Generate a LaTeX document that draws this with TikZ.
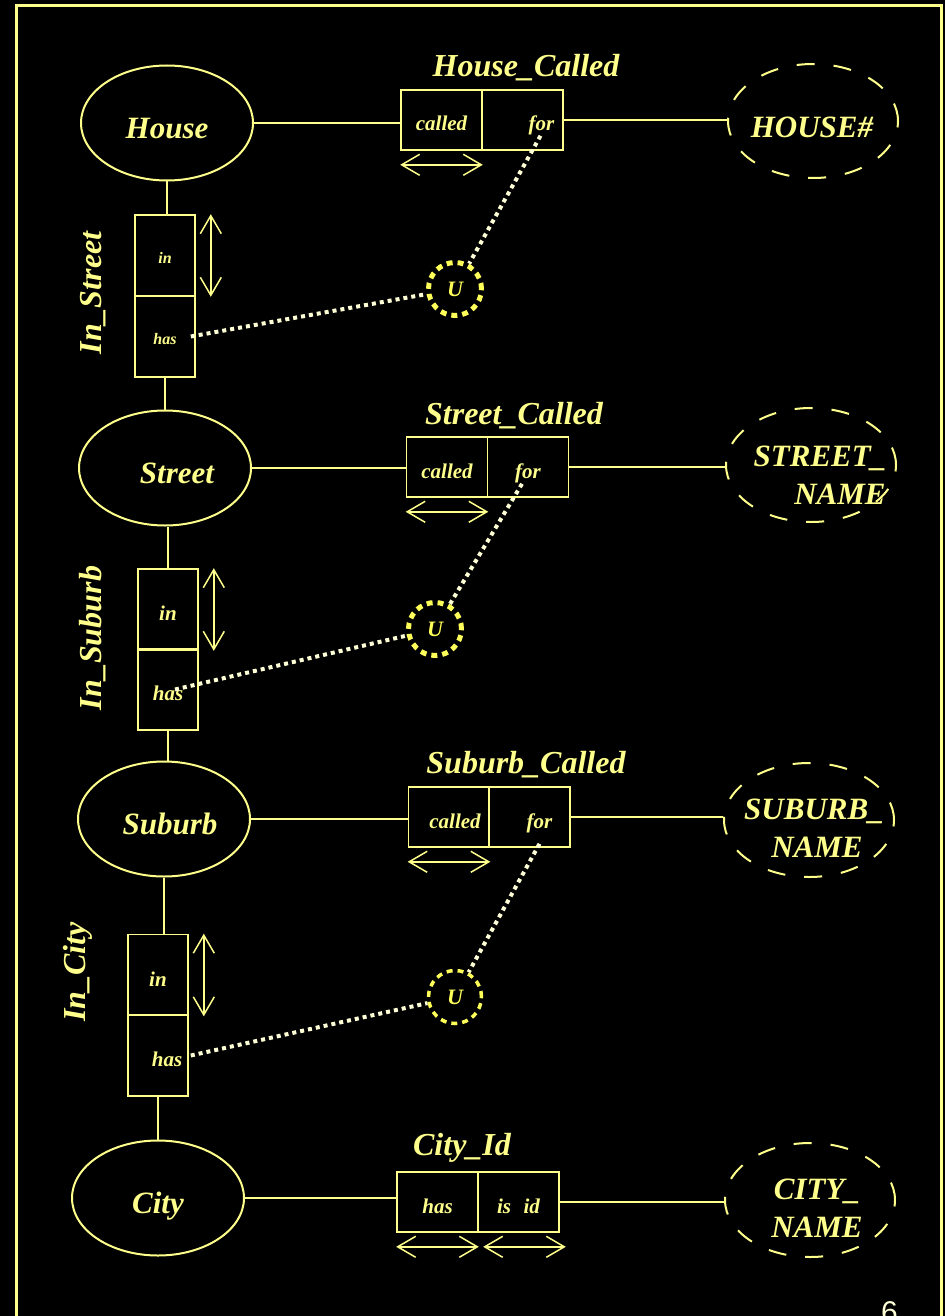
\documentclass[tikz,border=0pt]{standalone}
\usepackage{fontspec}
\setmainfont{Liberation Serif}
\setsansfont{Liberation Sans}
\usetikzlibrary{shapes.geometric, arrows.meta}

\definecolor{lineY}{RGB}{255,255,140}
\definecolor{dotW}{RGB}{255,255,215}
\definecolor{uniY}{RGB}{255,255,90}

\begin{document}
\begin{tikzpicture}[x=1pt, y=-1pt,
  ent/.style={ellipse, draw=lineY, line width=2pt, minimum width=172pt, minimum height=115pt,
    inner sep=0pt, text=lineY, text height=31pt, text depth=0pt,
    font=\bfseries\itshape\fontsize{31}{36}\selectfont},
  val/.style={ellipse, draw=lineY, line width=2pt, minimum width=170pt, minimum height=114pt,
    inner sep=0pt, dash pattern=on 18pt off 19pt},
  valtext/.style={text=lineY, align=center, inner sep=0pt,
    font=\bfseries\itshape\fontsize{31}{38}\selectfont},
  hcell/.style={rectangle, draw=lineY, line width=1.6pt, minimum width=81pt, minimum height=60pt,
    inner sep=0pt, text=lineY, text height=22pt, text depth=0pt,
    font=\bfseries\itshape\fontsize{21}{24}\selectfont},
  vcell/.style={hcell, minimum width=60pt, minimum height=81pt},
  scell/.style={vcell, text height=16pt, font=\bfseries\itshape\fontsize{16}{18}\selectfont},
  title/.style={text=lineY, font=\bfseries\itshape\fontsize{32}{36}\selectfont},
  link/.style={draw=lineY, line width=2pt},
  role/.style={draw=lineY, line width=1.5pt,
    {Straight Barb[length=18pt,width=21pt]}-{Straight Barb[length=18pt,width=21pt]}},
  dots/.style={draw=dotW, line width=4pt, dash pattern=on 4pt off 4pt},
  uni/.style={circle, draw=uniY, line width=5pt, dash pattern=on 6pt off 5pt, minimum size=53pt,
    inner sep=0pt, text=uniY, font=\bfseries\itshape\fontsize{22}{24}\selectfont},
]
% ---- page ----
\fill[black] (0,0) rectangle (945,1316);
\useasboundingbox (0,0) rectangle (945,1316);
\clip (0,0) rectangle (945,1316);
\draw[lineY, line width=3pt] (16,1320) -- (16,6) -- (941,6) -- (941,1320);
% ---- House ----
\node[ent] (house) at (167,123) {House};
\node[title] (hcTitle) at (526,68) {House\_Called};
\node[hcell] (hcCalled) at (441.5,120) {called};
\node[hcell] (hcFor) at (522.5,120) {\hspace*{38pt}for};
\node[val] (houseNo) at (813,121) {};
\node[valtext] (houseNoText) at (812,127) {HOUSE\#};
\draw[link] (house.east) -- (house.east -| hcCalled.west);
\draw[link] (hcFor.east) -- (hcFor.east -| houseNo.west);
\draw[role] ([yshift=-14pt]hcCalled.south west) -- ([yshift=-14pt]hcCalled.south east);
% ---- In_Street ----
\node[scell] (isIn) at (165,255.5) {in};
\node[scell] (isHas) at (165,336.5) {has};
\node[title, rotate=90] (isLabel) at (93,293) {In\_Street};
\draw[link] (house.south) -- (house.south |- isIn.north);
\draw[role] ([xshift=15pt]isIn.north east) -- ([xshift=15pt]isIn.south east);
\node[uni] (u1) at (455,289) {U};
\draw[dots] ([xshift=-5pt]isHas.east) -- (u1);
\draw[dots] ([xshift=18pt,yshift=15pt]hcFor.south) -- (u1);
% ---- Street ----
\node[ent] (street) at (165,468) {\hspace*{24pt}Street};
\draw[link] (isHas.south) -- (isHas.south |- street.north);
\node[title] (scTitle) at (514,416) {Street\_Called};
\node[hcell] (scCalled) at (447,467) {called};
\node[hcell] (scFor) at (528,467) {for};
\node[val] (streetName) at (811,465) {};
\node[valtext] (streetNameText) at (820,475) {STREET\_\\\hspace*{40pt}NAME};
\draw[link] (street.east) -- (street.east -| scCalled.west);
\draw[link] (scFor.east) -- (scFor.east -| streetName.west);
\draw[role] ([yshift=-14pt]scCalled.south west) -- ([yshift=-14pt]scCalled.south east);
% ---- In_Suburb ----
\node[vcell] (ibIn) at (168,609.5) {in};
\node[vcell] (ibHas) at (168,689.5) {has};
\node[title, rotate=90] (ibLabel) at (93,638) {In\_Suburb};
\draw[link] (ibIn.north) -- (ibIn.north |- street.south);
\draw[role] ([xshift=15pt]ibIn.north east) -- ([xshift=15pt]ibIn.south east);
\node[uni] (u2) at (435,629) {U};
\draw[dots] ([xshift=7pt]ibHas.center) -- (u2);
\draw[dots] ([xshift=-6pt,yshift=14pt]scFor.south) -- (u2);
% ---- Suburb ----
\node[ent] (suburb) at (164,819) {\hspace*{12pt}Suburb};
\draw[link] (ibHas.south) -- (ibHas.south |- suburb.north);
\node[title] (bcTitle) at (526,765) {Suburb\_Called};
\node[hcell] (bcCalled) at (449,817) {\hspace*{12pt}called};
\node[hcell] (bcFor) at (529.5,817) {\hspace*{20pt}for};
\node[val] (suburbName) at (809,820) {};
\node[valtext] (suburbNameText) at (814,828) {SUBURB\_\\\hspace*{6pt}NAME};
\draw[link] (suburb.east) -- (suburb.east -| bcCalled.west);
\draw[link] (bcFor.east) -- (bcFor.east -| suburbName.west);
\draw[role] ([yshift=-14pt]bcCalled.south west) -- ([yshift=-14pt]bcCalled.south east);
% ---- In_City ----
\node[vcell] (icIn) at (158,975) {in};
\node[vcell] (icHas) at (158,1055.5) {\hspace*{18pt}has};
\node[title, rotate=90] (icLabel) at (78,972) {In\_City};
\draw[link] (suburb.south) -- (suburb.south |- icIn.north);
\draw[role] ([xshift=15pt]icIn.north east) -- ([xshift=15pt]icIn.south east);
\node[uni, line width=3.5pt] (u3) at (455,997) {U};
\draw[dots] ([xshift=2pt]icHas.east) -- (u3);
\draw[dots] ([xshift=10pt,yshift=4pt]bcFor.south) -- (u3);
% ---- City ----
\node[ent] (city) at (158,1198) {City};
\draw[link] (icHas.south) -- (icHas.south |- city.north);
\node[title] (ciTitle) at (462,1148) {City\_Id};
\node[hcell] (ciHas) at (437.5,1202) {has};
\node[hcell] (ciIsId) at (518.5,1202) {is\hspace{0.6em}id};
\node[val] (cityName) at (810,1200) {};
\node[valtext] (cityNameText) at (817,1208) {CITY\_\\NAME};
\draw[link] (city.east) -- (city.east -| ciHas.west);
\draw[link] (ciIsId.east) -- (ciIsId.east -| cityName.west);
\draw[role] ([yshift=-14pt]ciHas.south west) -- ([yshift=-14pt]ciHas.south east);
\draw[role] ([xshift=6pt,yshift=-14pt]ciIsId.south west) -- ([xshift=6pt,yshift=-14pt]ciIsId.south east);
% page number
\node[anchor=north west, inner sep=0pt, text=dotW, font=\sffamily\fontsize{30}{32}\selectfont] (pageNo) at (881,1301) {6};
\end{tikzpicture}
\end{document}
